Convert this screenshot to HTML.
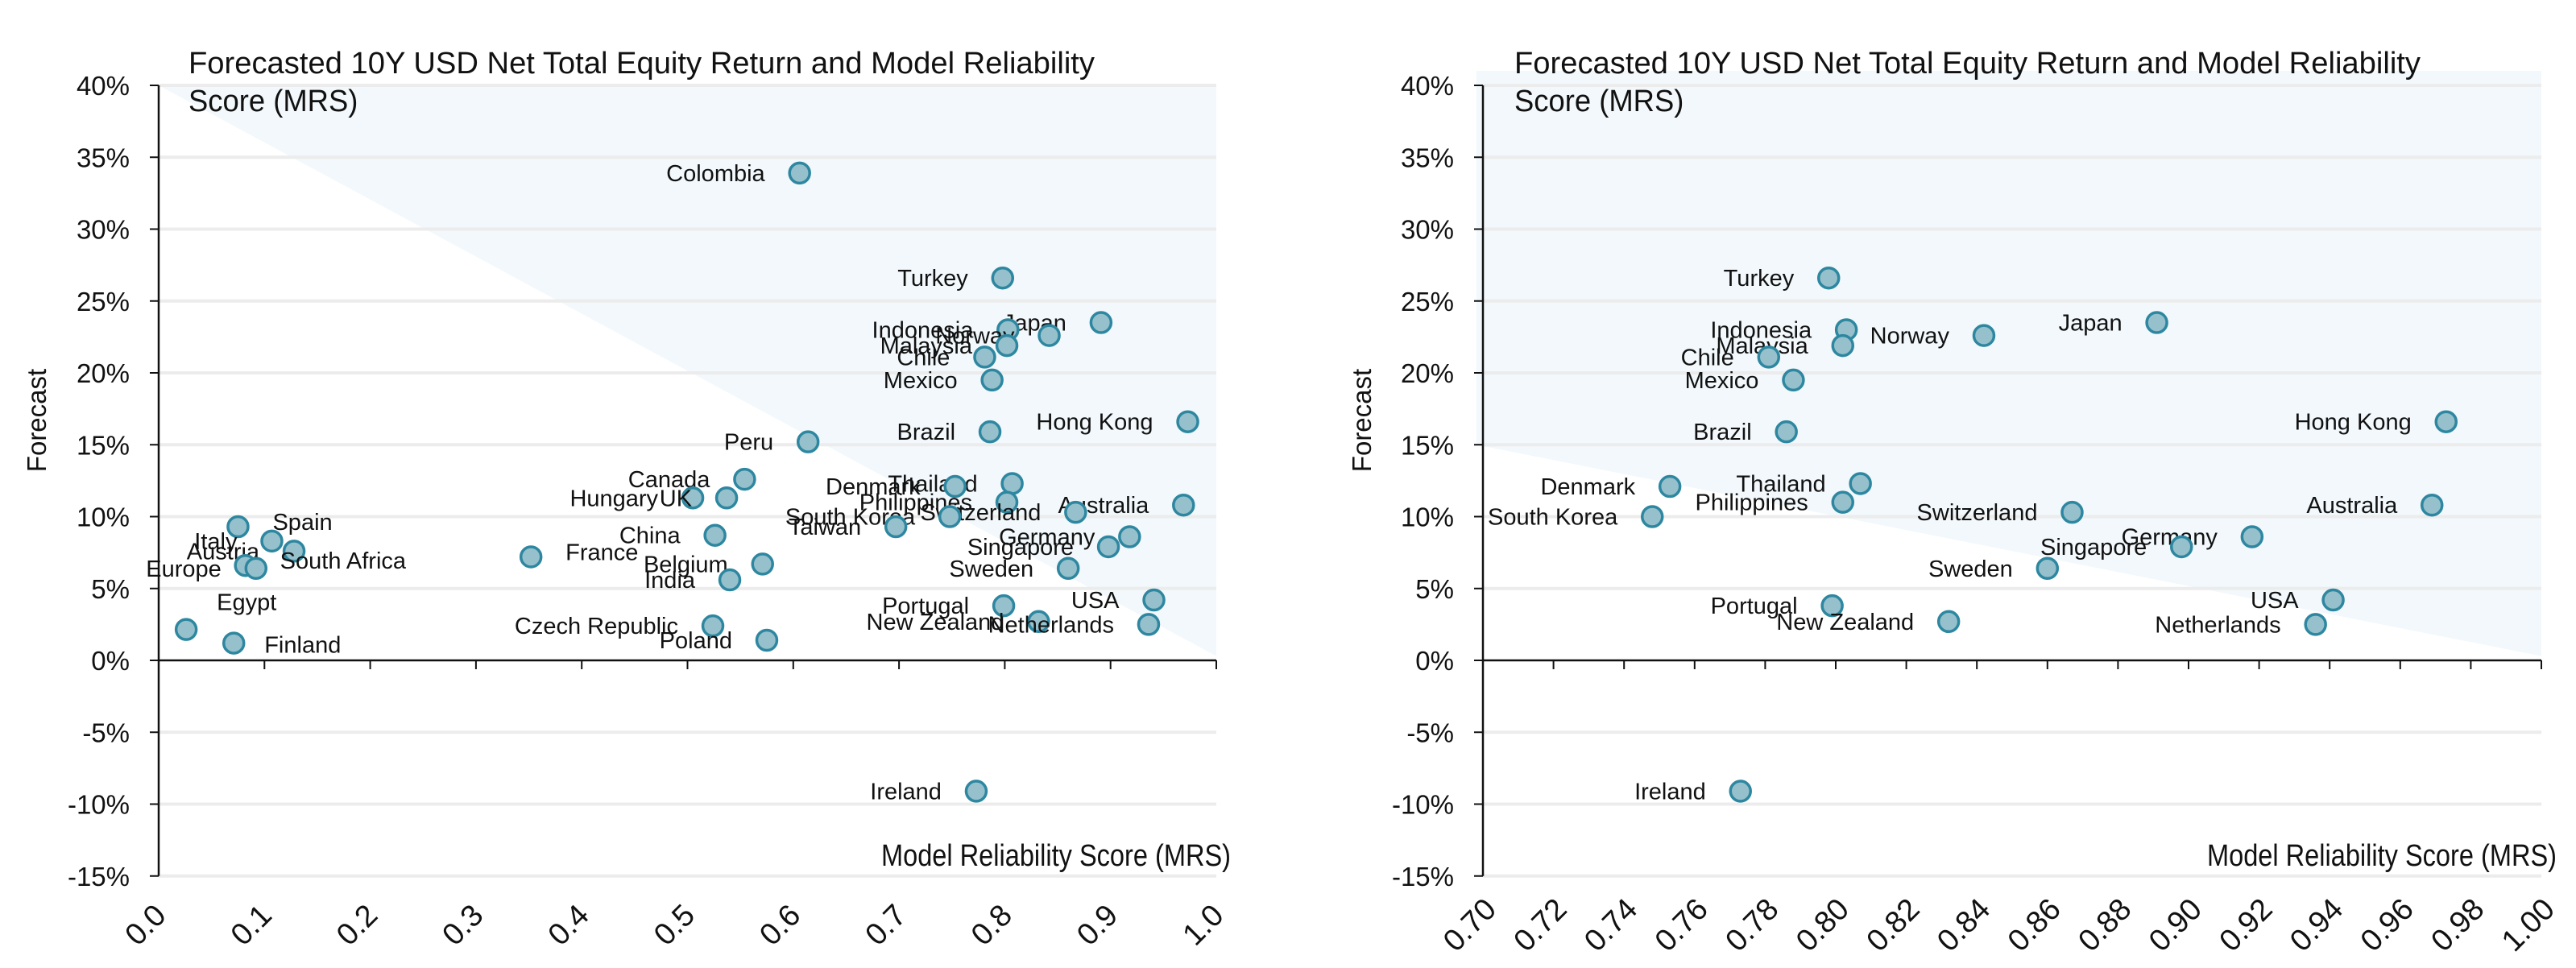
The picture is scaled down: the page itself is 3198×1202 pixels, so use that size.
<!DOCTYPE html>
<html><head><meta charset="utf-8">
<style>
html,body{margin:0;padding:0;background:#fff;}
svg{display:block;font-family:"Liberation Sans",sans-serif;}
</style></head>
<body>
<svg id="chart" width="3198" height="1202" viewBox="0 0 3198 1202" xmlns="http://www.w3.org/2000/svg"></svg>
<script>
const countries = ["Colombia","Turkey","Japan","Indonesia","Norway","Malaysia","Chile","Mexico","Hong Kong","Brazil","Peru","Canada","Thailand","Denmark","Hungary","UK","Philippines","Australia","Switzerland","South Korea","Taiwan","Spain","Italy","Austria","South Africa","Europe","Egypt","Finland","China","France","Belgium","India","Germany","Singapore","Sweden","Portugal","USA","New Zealand","Netherlands","Czech Republic","Poland","Ireland"];
const mrs = [0.606,0.798,0.891,0.803,0.842,0.802,0.781,0.788,0.973,0.786,0.614,0.554,0.807,0.753,0.505,0.537,0.802,0.969,0.867,0.748,0.697,0.075,0.107,0.128,0.082,0.092,0.026,0.071,0.526,0.352,0.571,0.540,0.918,0.898,0.860,0.799,0.941,0.832,0.936,0.524,0.575,0.773];
const forecast = [33.9,26.6,23.5,23.0,22.6,21.9,21.1,19.5,16.6,15.9,15.2,12.6,12.3,12.1,11.3,11.3,11.0,10.8,10.3,10.0,9.3,9.3,8.3,7.6,6.6,6.4,2.15,1.2,8.7,7.2,6.7,5.6,8.6,7.9,6.4,3.8,4.2,2.7,2.5,2.4,1.4,-9.1];
const yTicks = [40,35,30,25,20,15,10,5,0,-5,-10,-15];
const xTicksLeft = [0.0,0.1,0.2,0.3,0.4,0.5,0.6,0.7,0.8,0.9,1.0];
const xTicksRight = [0.70,0.72,0.74,0.76,0.78,0.80,0.82,0.84,0.86,0.88,0.90,0.92,0.94,0.96,0.98,1.00];
const shadeLeft = [[0,40],[1.0,0.3]];
const shadeRight = [[0.70,15],[1.0,0.3]];

const NS="http://www.w3.org/2000/svg";
const svg=document.getElementById('chart');
function mk(tag,attrs,parent){const e=document.createElementNS(NS,tag);for(const k in attrs)e.setAttribute(k,attrs[k]);(parent||svg).appendChild(e);return e;}
const labelStyle={"Spain":["start",43,4],"South Africa":["start",43,4],"France":["start",43,4],"Egypt":["start",38,-24],"Finland":["start",38,12]};

function drawPanel(p){
  const g=mk('g',{});
  
  
  const X=v=>p.x0+(v-p.xmin)/(p.xmax-p.xmin)*(p.x1-p.x0);
  const Y=v=>820-v*17.85;
  const sh=mk('polygon',{points:`${X(p.shade[0][0])-p.shadeExtra},${Y(p.shade[0][1])} ${X(p.shade[1][0])},${Y(p.shade[1][1])} ${X(p.shade[1][0])},${p.shadeTop} ${X(p.shade[0][0])-p.shadeExtra},${p.shadeTop}`,fill:'#f2f8fb'},g);
  
  
  yTicks.forEach(t=>{
    const y=Y(t);
    if(t!==0){const gl=mk('line',{x1:p.x0,x2:p.x1,y1:y,y2:y,stroke:'#ececec','stroke-width':4},g);
      
      }
    mk('line',{x1:p.x0-11,x2:p.x0,y1:y,y2:y,stroke:'#111','stroke-width':2},g);
    const tl=mk('text',{x:p.x0-36,y:y+12,'text-anchor':'end','font-size':33,fill:'#111'},g);
    tl.textContent=t+'%';
    
    
  });
  const ya=mk('line',{x1:p.x0,x2:p.x0,y1:Y(40),y2:Y(-15),stroke:'#111','stroke-width':2.5},g);
  
  
  const xa=mk('line',{x1:p.x0,x2:p.x1,y1:820,y2:820,stroke:'#111','stroke-width':2.5},g);
  
  
  p.xticks.forEach(t=>{
    const x=X(t);
    mk('line',{x1:x,x2:x,y1:820,y2:831,stroke:'#111','stroke-width':2},g);
    const tl=mk('text',{x:0,y:0,'text-anchor':'middle','dominant-baseline':'central','font-size':38,fill:'#111',transform:`translate(${x-16},${1149}) rotate(-45)`},g);
    tl.textContent=t.toFixed(p.dec);
    
    
  });
  const t1=mk('text',{x:p.titleX,y:91,'font-size':38,fill:'#111',textLength:p.titleW,lengthAdjust:'spacingAndGlyphs'},g);
  t1.textContent='Forecasted 10Y USD Net Total Equity Return and Model Reliability';
  
  
  const t2=mk('text',{x:p.titleX,y:138,'font-size':38,fill:'#111',textLength:p.titleW*0.187,lengthAdjust:'spacingAndGlyphs'},g);
  t2.textContent='Score (MRS)';
  
  
  const xt=mk('text',{x:p.xtX,y:1075,'font-size':38,fill:'#111',textLength:434,lengthAdjust:'spacingAndGlyphs'},g);
  xt.textContent='Model Reliability Score (MRS)';
  
  
  const yt=mk('text',{x:0,y:0,'text-anchor':'middle','font-size':33,fill:'#111',transform:`translate(${p.ytX},522) rotate(-90)`},g);
  yt.textContent='Forecast';
  
  
  countries.forEach((c,i)=>{
    if(mrs[i]<p.xmin) return;
    const cx=X(mrs[i]), cy=Y(forecast[i]);
    const pt=mk('circle',{cx:cx,cy:cy,r:12.5,fill:'#96c0cc',stroke:'#2e87a0','stroke-width':3.5},g);
    
    
    const ls=labelStyle[c]||["end",-43,10];
    const lb=mk('text',{x:cx+ls[1],y:cy+ls[2],'text-anchor':ls[0],'font-size':29,fill:'#111'},g);
    lb.textContent=c;
    
    
  });
}
drawPanel({name:'chart-full-range',x0:197,x1:1510,xmin:0,xmax:1,xticks:xTicksLeft,dec:1,shade:shadeLeft,shadeTop:107,shadeExtra:0,titleX:234,titleW:1125,xtX:1094,ytX:57});
drawPanel({name:'chart-zoomed-range',x0:1841,x1:3155,xmin:0.70,xmax:1.00,xticks:xTicksRight,dec:2,shade:shadeRight,shadeTop:88,shadeExtra:8,titleX:1880,titleW:1125,xtX:2740,ytX:1702});
</script>
</body></html>
